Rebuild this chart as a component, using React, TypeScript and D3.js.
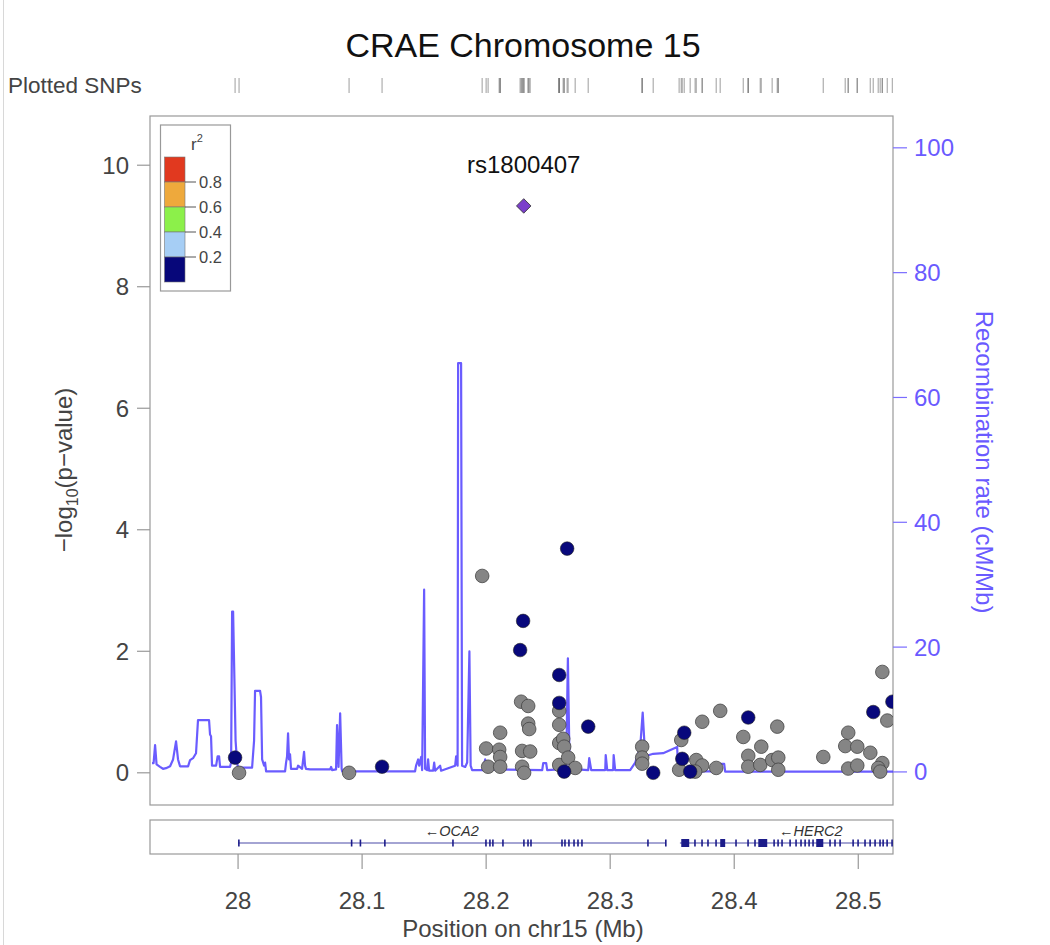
import React from "react";
import * as d3 from "d3";

// ---------- DATA ----------
const title = "CRAE Chromosome 15";
const leadSnp = { name: "rs1800407", pos: 28.2303, logp: 9.33 };

// SNP positions (Mb), -log10(p) and r2 (null = no LD info, gray)
const snpPos = [
  27.9976, 28.1161, 28.2653, 28.2298, 28.2274, 28.2589, 28.2589, 28.2823, 28.2629, 28.3347,
  28.3597, 28.3581, 28.3645, 28.4113, 28.5121, 28.5275,
  28.0008, 28.0895, 28.1968, 28.2000, 28.2113, 28.2105, 28.2113, 28.2016, 28.2113,
  28.2282, 28.2339, 28.2339, 28.2347, 28.2290, 28.2355, 28.2290, 28.2306,
  28.2589, 28.2589, 28.2589, 28.2621, 28.2629, 28.2589, 28.2661, 28.2718,
  28.3258, 28.3258, 28.3258, 28.3573, 28.3556, 28.3694, 28.3742, 28.3685, 28.3742, 28.3887,
  28.3855, 28.4073, 28.4218, 28.4113, 28.4113, 28.4210, 28.4306, 28.4355, 28.4355, 28.4347,
  28.4718, 28.4919, 28.4895, 28.4992, 28.5097, 28.4919, 28.4992, 28.5194, 28.5161, 28.5177,
  28.5194, 28.5234,
];
const snpLogP = [
  0.25, 0.10, 3.69, 2.50, 2.02, 1.61, 1.15, 0.76, 0.02, 0.00,
  0.66, 0.23, 0.02, 0.91, 1.00, 1.17,
  0.00, 0.00, 3.24, 0.40, 0.66, 0.38, 0.26, 0.10, 0.10,
  1.17, 1.10, 0.81, 0.72, 0.36, 0.35, 0.10, 0.00,
  1.02, 0.79, 0.49, 0.56, 0.43, 0.13, 0.25, 0.08,
  0.43, 0.25, 0.15, 0.54, 0.05, 0.21, 0.12, 0.02, 0.84, 1.02,
  0.08, 0.59, 0.43, 0.28, 0.10, 0.13, 0.21, 0.25, 0.05, 0.76,
  0.26, 0.66, 0.44, 0.43, 0.33, 0.07, 0.12, 0.16, 0.08, 0.02,
  1.66, 0.86,
];
const snpR2: (number | null)[] = [
  0.1, 0.1, 0.1, 0.1, 0.1, 0.1, 0.1, 0.1, 0.1, 0.1,
  0.1, 0.1, 0.1, 0.1, 0.1, 0.1,
  null, null, null, null, null, null, null, null, null,
  null, null, null, null, null, null, null, null,
  null, null, null, null, null, null, null, null,
  null, null, null, null, null, null, null, null, null, null,
  null, null, null, null, null, null, null, null, null, null,
  null, null, null, null, null, null, null, null, null, null,
  null, null,
];

// Recombination rate (position Mb, cM/Mb)
const recombPos = [
  27.9306, 27.9319, 27.9331, 27.9343, 27.9371, 27.9395, 27.9419, 27.9452, 27.9476, 27.95,
  27.9516, 27.9532, 27.9597, 27.9613, 27.9637, 27.9661, 27.9677, 27.9766, 27.9774, 27.9782,
  27.979, 27.9823, 27.9835, 27.9847, 27.9855, 27.9935, 27.9944, 27.9952, 27.996, 27.998,
  27.9992, 28.0, 28.0113, 28.0129, 28.0137, 28.0177, 28.0185, 28.0194, 28.021, 28.0218,
  28.0226, 28.0379, 28.0387, 28.0395, 28.0403, 28.0411, 28.0419, 28.0427, 28.0476, 28.0484,
  28.0516, 28.0532, 28.054, 28.0548, 28.0581, 28.0742, 28.075, 28.0758, 28.079, 28.0798,
  28.081, 28.0823, 28.0835, 28.0839, 28.1427, 28.1435, 28.1452, 28.146, 28.1476, 28.1484,
  28.15, 28.1508, 28.1524, 28.1532, 28.154, 28.1573, 28.1581, 28.1589, 28.1629, 28.1637,
  28.175, 28.1758, 28.177, 28.1774, 28.1798, 28.1806, 28.1831, 28.1847, 28.1865, 28.1875,
  28.1887, 28.1976, 28.1992, 28.2008, 28.2452, 28.246, 28.2484, 28.2492, 28.2645, 28.2659,
  28.2673, 28.2823, 28.2831, 28.2847, 28.296, 28.2964, 28.2976, 28.3024, 28.3028, 28.304,
  28.3161, 28.3202, 28.3242, 28.3262, 28.3282, 28.3347, 28.3427, 28.354, 28.3548, 28.3887,
  28.3895, 28.3919, 28.3927, 28.5282,
];
const recombRate = [
  1.4, 1.4, 4.3, 1.2, 0.8, 0.5, 0.6, 0.9, 2.0, 4.9,
  2.0, 0.9, 0.9, 1.9, 2.2, 3.0, 8.3, 8.3, 6.0, 5.7,
  1.0, 1.0, 2.5, 2.5, 0.8, 0.8, 1.5, 25.7, 25.7, 5.0,
  1.5, 0.7, 0.7, 5.0, 13.0, 13.0, 12.0, 2.0, 1.0, 1.5,
  0.1, 0.1, 1.5, 2.5, 6.2, 2.0, 2.8, 0.5, 0.5, 1.0,
  0.5, 3.2, 1.0, 0.5, 0.4, 0.4, 0.8, 0.3, 0.4, 7.5,
  0.8, 9.4, 0.5, 0.1, 0.1, 1.0, 2.0, 1.0, 2.4, 0.3,
  29.2, 0.5, 0.3, 2.0, 0.2, 0.2, 1.5, 0.2, 1.0, 0.2,
  1.0, 2.5, 1.0, 65.5, 65.5, 1.0, 0.8, 1.5, 19.3, 1.0,
  0.3, 0.3, 2.0, 0.4, 0.3, 1.4, 1.4, 0.3, 0.5, 18.2,
  0.5, 0.3, 2.2, 0.3, 0.3, 2.7, 0.3, 0.3, 2.7, 0.3,
  0.3, 1.5, 4.0, 9.5, 2.5, 2.9, 3.0, 4.0, 0.1, 0.1,
  1.3, 1.3, 0.05, 0.05,
];

// Genes
const geneNames = ["OCA2", "HERC2"];
const geneStart = [28.0, 28.3562];
const geneEnd = [28.3445, 28.5673];
const geneExons: [number, number][][] = [
  [
    [28.0, 28.0008], [28.0909, 28.0912], [28.098, 28.0983], [28.1177, 28.118], [28.1726, 28.1729],
    [28.1992, 28.1995], [28.2024, 28.2027], [28.2048, 28.2051], [28.2129, 28.2132], [28.2298, 28.2301],
    [28.2331, 28.2334], [28.2355, 28.2358], [28.2605, 28.2608], [28.2629, 28.2632], [28.2661, 28.2664],
    [28.2702, 28.2705], [28.2734, 28.2737], [28.2766, 28.2769], [28.3298, 28.3301], [28.3442, 28.3445],
  ],
  [
    [28.3573, 28.3637], [28.3677, 28.368], [28.3734, 28.3737], [28.3782, 28.3785], [28.3847, 28.385],
    [28.3887, 28.3927], [28.4008, 28.4011], [28.4105, 28.4108], [28.4161, 28.4164], [28.4194, 28.4266],
    [28.4315, 28.4318], [28.4347, 28.435], [28.4379, 28.4382], [28.4444, 28.4447], [28.4492, 28.4495],
    [28.4532, 28.4535], [28.4565, 28.4568], [28.4597, 28.46], [28.4629, 28.4632], [28.4661, 28.4718],
    [28.4766, 28.4769], [28.4806, 28.4809], [28.4847, 28.485], [28.4952, 28.4955], [28.4992, 28.4995],
    [28.5048, 28.5051], [28.5089, 28.5092], [28.5129, 28.5132], [28.5169, 28.5172], [28.5194, 28.5197],
    [28.5226, 28.5229], [28.5266, 28.5269], [28.5306, 28.5309],
  ],
];

const xTicks = [28, 28.1, 28.2, 28.3, 28.4, 28.5];
const yTicks = [0, 2, 4, 6, 8, 10];
const recTicks = [0, 20, 40, 60, 80, 100];
const legendLabels = ["0.8", "0.6", "0.4", "0.2"];
const legendColors = ["#E1391F", "#EEA93C", "#8CF04A", "#A6CEF5", "#07077A"];

// ---------- LAYOUT ----------
const W = 1050, H = 945;
const L = 150, R = 893, T = 116, B = 805;
const FONT = "'Liberation Sans', Arial, Helvetica, sans-serif";
const REC_COLOR = "#5040FF";
const GRAY_PT = "#858585";
const NAVY_PT = "#08087C";

export default function App() {
  const x = d3.scaleLinear().domain([27.929, 28.528]).range([L, R]);
  const y = d3.scaleLinear().domain([-0.53, 10.81]).range([B, T]);
  const yr = d3.scaleLinear().domain([-5.3, 105.1]).range([B, T]);

  const recData = recombPos.map((p, i) => [p, recombRate[i]] as [number, number]);
  const recLine = d3.line<[number, number]>().x((d) => x(d[0])).y((d) => yr(d[1]))(recData) || "";

  const snps = snpPos.map((p, i) => ({ pos: p, logp: snpLogP[i], r2: snpR2[i] }));
  const gray = snps.filter((s) => s.r2 === null);
  const navy = snps.filter((s) => s.r2 !== null);

  const allPos = [...snpPos, leadSnp.pos];
  const diamond = d3.symbol().type(d3.symbolSquare).size(105)() || "";

  const geneY = 843, geneTop = 820, geneBot = 854;

  return (
    <div style={{ position: "absolute", left: 0, top: 0 }}>
      <svg width={W} height={H} style={{ display: "block", fontFamily: FONT }}>
        <rect x={0} y={0} width={W} height={H} fill="#fff" />
        <line x1={3.5} x2={3.5} y1={0} y2={H} stroke="#d8d8d8" />
        <defs>
          <clipPath id="plotClip">
            <rect x={L} y={T} width={R - L} height={B - T} />
          </clipPath>
          <clipPath id="geneClip">
            <rect x={L} y={geneTop} width={R - L} height={geneBot - geneTop} />
          </clipPath>
        </defs>

        {/* Title */}
        <text x={523} y={57} textAnchor="middle" fontSize={34} fill="#111">{title}</text>

        {/* Plotted SNPs */}
        <text x={8} y={93} fontSize={22.5} fill="#444">Plotted SNPs</text>
        {allPos.map((p, i) => (
          <line key={i} x1={x(p)} x2={x(p)} y1={78} y2={93} stroke="#777" strokeOpacity={0.55} strokeWidth={1.3} />
        ))}

        {/* Plot frame */}
        <rect x={L} y={T} width={R - L} height={B - T} fill="none" stroke="#999" strokeWidth={1.2} />

        {/* Left axis */}
        {yTicks.map((t) => (
          <g key={t}>
            <line x1={L - 13} x2={L} y1={y(t)} y2={y(t)} stroke="#999" strokeWidth={1.2} />
            <text x={129} y={y(t) + 8.5} textAnchor="end" fontSize={24} fill="#444">{t}</text>
          </g>
        ))}
        <text transform={`translate(72,470) rotate(-90)`} textAnchor="middle" fontSize={24} fill="#444">
          −log<tspan fontSize={16} dy={6}>10</tspan><tspan dy={-6}>(p−value)</tspan>
        </text>

        {/* Right axis */}
        {recTicks.map((t) => (
          <g key={t}>
            <line x1={R} x2={R + 14} y1={yr(t)} y2={yr(t)} stroke="#7a6cff" strokeWidth={1.2} />
            <text x={914} y={yr(t) + 8.5} textAnchor="start" fontSize={24} fill="#6a5aff">{t}</text>
          </g>
        ))}
        <text transform={`translate(976,462) rotate(90)`} textAnchor="middle" fontSize={24} fill="#6a5aff">
          Recombination rate (cM/Mb)
        </text>

        {/* Recombination line */}
        <g clipPath="url(#plotClip)">
          <path d={recLine} fill="none" stroke={REC_COLOR} strokeOpacity={0.85} strokeWidth={2.2} strokeLinejoin="round" />
        </g>

        {/* Points */}
        <g clipPath="url(#plotClip)">
          {gray.map((s, i) => (
            <circle key={"g" + i} cx={x(s.pos)} cy={y(s.logp)} r={6.8} fill={GRAY_PT} stroke="#444" strokeWidth={0.8} />
          ))}
          {navy.map((s, i) => (
            <circle key={"n" + i} cx={x(s.pos)} cy={y(s.logp)} r={6.8} fill={NAVY_PT} stroke="#222" strokeWidth={0.6} />
          ))}
          <path d={diamond} transform={`translate(${x(leadSnp.pos)},${y(leadSnp.logp)}) rotate(45)`} fill="#7B3FCB" stroke="#333" strokeWidth={0.8} />
        </g>
        <text x={x(leadSnp.pos)} y={y(leadSnp.logp) - 33} textAnchor="middle" fontSize={24} fill="#111">{leadSnp.name}</text>

        {/* Legend */}
        <g>
          <rect x={160.5} y={125} width={70} height={166} fill="#fff" stroke="#999" strokeWidth={1.2} />
          <text x={191} y={150} fontSize={17} fill="#444">r<tspan fontSize={11} dy={-8}>2</tspan></text>
          {legendColors.map((c, i) => (
            <rect key={c} x={164.5} y={157 + i * 25} width={20.5} height={25} fill={c} stroke="#777" strokeWidth={0.6} />
          ))}
          {legendLabels.map((lab, i) => (
            <g key={lab}>
              <line x1={185} x2={196} y1={182 + i * 25} y2={182 + i * 25} stroke="#555" strokeWidth={1} />
              <text x={199} y={188 + i * 25} fontSize={16.5} fill="#444">{lab}</text>
            </g>
          ))}
        </g>

        {/* Gene track */}
        <rect x={L} y={geneTop} width={R - L} height={geneBot - geneTop} fill="#fff" stroke="#999" strokeWidth={1.2} />
        <g clipPath="url(#geneClip)">
          {geneNames.map((g, gi) => (
            <g key={g}>
              <line x1={x(geneStart[gi])} x2={x(geneEnd[gi])} y1={geneY} y2={geneY} stroke="#4a4aa8" strokeWidth={1.2} />
              {geneExons[gi].map((e, ei) => {
                const x0 = x(e[0]);
                const w = Math.max(1.6, x(e[1]) - x0);
                const hh = w > 3 ? 8 : 7;
                return <rect key={ei} x={x0} y={geneY - hh / 2} width={w} height={hh} fill="#1c1c8a" />;
              })}
              <text x={x((geneStart[gi] + geneEnd[gi]) / 2)} y={836} textAnchor="middle" fontSize={14.5} fontStyle="italic" fill="#333">
                ←{g}
              </text>
            </g>
          ))}
        </g>

        {/* X axis */}
        {xTicks.map((t) => (
          <g key={t}>
            <line x1={x(t)} x2={x(t)} y1={geneBot} y2={geneBot + 15} stroke="#999" strokeWidth={1.2} />
            <text x={x(t)} y={909} textAnchor="middle" fontSize={24} fill="#444">{t}</text>
          </g>
        ))}
        <text x={523} y={937} textAnchor="middle" fontSize={24} fill="#444">Position on chr15 (Mb)</text>
      </svg>
    </div>
  );
}
